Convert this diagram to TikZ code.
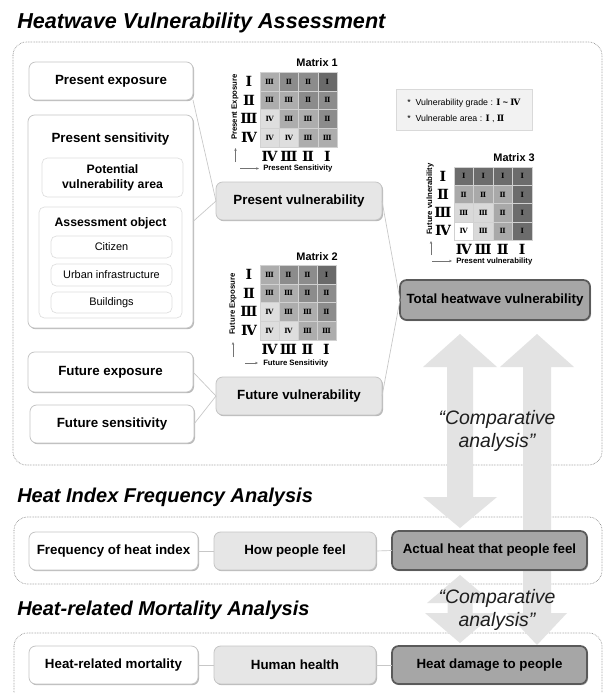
\documentclass[tikz,border=0pt]{standalone}
\usepackage{fontspec}
\setmainfont{Liberation Sans}
\newfontfamily\rmnf{DejaVu Serif}
\usetikzlibrary{shadows,arrows.meta}
\definecolor{bord}{HTML}{C4C4C4}
\definecolor{lgray}{HTML}{E6E6E6}
\definecolor{mgray}{HTML}{A6A6A6}
\definecolor{dbord}{HTML}{5A5A5A}
\definecolor{arrowc}{HTML}{E3E3E3}
\definecolor{m1c1}{HTML}{6A6A6A}
\definecolor{m1c2}{HTML}{8C8C8C}
\definecolor{m1c3}{HTML}{ADADAD}
\definecolor{m1c4}{HTML}{DEDEDE}
\definecolor{m3c1}{HTML}{6C6C6C}
\definecolor{m3c2}{HTML}{A9A9A9}
\definecolor{m3c3}{HTML}{D9D9D9}
\definecolor{m3c4}{HTML}{FFFFFF}
\newcommand\rn[1]{\ifcase#1\relax\or Ⅰ\or Ⅱ\or Ⅲ\or Ⅳ\fi}
\newcommand\bx[7]{\node[#6, minimum width={(#4-#2)*0.75pt}, minimum height={(#5-#3)*0.75pt}] (#1) at ({(#2+#4)/2},{(#3+#5)/2}) {#7};}
\tikzset{
 shad/.style={drop shadow={shadow xshift=0.8pt, shadow yshift=-0.9pt, fill=black, opacity=0.28}},
 base/.style={rectangle, rounded corners=5pt, inner sep=0pt, outer sep=0pt, align=center, font=\bfseries\fontsize{10}{12}\selectfont},
 wbox/.style={base, draw=bord, line width=0.6pt, fill=white, shad},
 gbox/.style={base, draw=bord, line width=0.6pt, fill=lgray, shad},
 dbox/.style={base, draw=dbord, line width=1.3pt, fill=mgray, shad},
 ibox/.style={rectangle, rounded corners=4pt, draw=black!13, line width=0.5pt, fill=white, inner sep=0pt, outer sep=0pt, align=center, font=\bfseries\fontsize{9.2}{11.3}\selectfont},
 small/.style={ibox, font=\fontsize{8.2}{10}\selectfont},
 legbox/.style={rectangle, draw=black!15, line width=0.5pt, fill=black!5, inner sep=0pt, outer sep=0pt},
 frame/.style={draw=black!50, line width=0.5pt, dash pattern=on 0.45pt off 0.75pt, rounded corners=10pt},
 link/.style={draw=black!22, line width=0.5pt},
 bigarrow/.style={fill=arrowc, draw=none},
 title/.style={font=\bfseries\itshape\fontsize{#1}{18}\selectfont, anchor=west, inner sep=0pt},
 hd/.style={font=\bfseries\fontsize{10}{12}\selectfont, inner sep=0pt},
 cmp/.style={font=\itshape\fontsize{14.6}{17.3}\selectfont, align=center, text=black!88, inner sep=0pt},
 cellline/.style={draw=white!82!black, line width=0.3pt},
 cellt/.style={font=\rmnf\bfseries\fontsize{5.4}{6}\selectfont, inner sep=0pt},
 axl/.style={font=\rmnf\bfseries\fontsize{10.5}{12}\selectfont, inner sep=0pt},
 axt/.style={font=\bfseries\fontsize{5.8}{7}\selectfont, inner sep=0pt},
 mtitle/.style={font=\bfseries\fontsize{8.2}{10}\selectfont, inner sep=0pt, anchor=east},
 axarrow/.style={draw=black!55, line width=0.4pt, -{Stealth[length=2.2pt,width=1.8pt]}},
 legt/.style={font=\fontsize{6.6}{8}\selectfont, anchor=west, inner sep=0pt},
}
\newcommand\mgrid[7]{%
 \foreach \v [count=\i from 0] in {#6} {
   \pgfmathtruncatemacro\rr{div(\i,4)}
   \pgfmathtruncatemacro\cc{mod(\i,4)}
   \pgfmathsetmacro\xa{#2+\cc*#4}
   \pgfmathsetmacro\ya{#3+\rr*#5}
   \filldraw[cellline, fill=#7c\v] (\xa,\ya) rectangle ++(#4,#5);
   \node[cellt] (#1-\i) at ({\xa+#4/2},{\ya+#5/2}) {\rn{\v}};
 }
 \foreach \v [count=\i from 0] in {1,2,3,4} {\node[axl] (#1-r\v) at ({#2-11},{#3+\i*#5+#5/2}) {\rn{\v}};}
 \foreach \v [count=\i from 0] in {4,3,2,1} {\node[axl] (#1-c\v) at ({#2+\i*#4+#4/2},{#3+4*#5+9}) {\rn{\v}};}
}
\begin{document}
\begin{tikzpicture}[x=0.75pt,y=-0.75pt]
\useasboundingbox (0,0) rectangle (605,693);
\clip (0,0) rectangle (605,693);
\fill[white] (0,0) rectangle (605,693);

% titles
\node[title=16.2] (t1) at (17,23) {Heatwave Vulnerability Assessment};
\node[title=15] (t2) at (17,497) {Heat Index Frequency Analysis};
\node[title=15] (t3) at (17,610) {Heat-related Mortality Analysis};

% dotted frames
\draw[frame] (13,42) rectangle (602,465);
\draw[frame] (14,517) rectangle (602,584);
\draw[frame] (14,633) rectangle (602,705);

% big comparative arrows
\fill[bigarrow] (460,334) -- (497,367) -- (473,367) -- (473,497) -- (497,497) -- (460,528) -- (423,497) -- (447,497) -- (447,367) -- (423,367) -- cycle;
\fill[bigarrow] (537,334) -- (574,367) -- (551,367) -- (551,613) -- (567,613) -- (537,645) -- (507,613) -- (523,613) -- (523,367) -- (500,367) -- cycle;
\fill[bigarrow] (460,575) -- (493,603) -- (472.5,603) -- (472.5,613) -- (495,613) -- (460,643) -- (425,613) -- (447.5,613) -- (447.5,603) -- (427,603) -- cycle;

% left column
\bx{pe}{29}{62}{193}{100}{wbox}{Present exposure}
\bx{ps}{28}{115}{193}{328}{wbox}{}
\node[hd] (pst) at (110.5,139) {Present sensitivity};
\bx{pva}{42}{158}{183}{197}{ibox}{Potential\\vulnerability area}
\bx{ao}{39}{207}{182}{318}{ibox}{}
\node[font=\bfseries\fontsize{9.2}{11}\selectfont, inner sep=0pt] (aot) at (110.5,223) {Assessment object};
\bx{cit}{51}{236}{172}{258}{small}{Citizen}
\bx{urb}{51}{264}{172}{286}{small}{Urban infrastructure}
\bx{bld}{51}{292}{172}{313}{small}{Buildings}
\bx{fe}{28}{352}{193}{392}{wbox}{Future exposure}
\bx{fs}{30}{405}{194}{443}{wbox}{Future sensitivity}

% middle and right
\bx{pv}{216}{182}{382}{220}{gbox}{Present vulnerability}
\bx{fv}{216}{377}{382}{415}{gbox}{Future vulnerability}
\bx{tot}{400}{280}{590}{320}{dbox}{Total heatwave vulnerability}

% bottom rows
\bx{fh}{29}{532}{198}{570}{wbox}{Frequency of heat index}
\bx{hp}{214}{532}{376}{570}{gbox}{How people feel}
\bx{ah}{392}{531}{587}{570}{dbox}{Actual heat that people feel}
\bx{hm}{29}{646}{198}{684}{wbox}{Heat-related mortality}
\bx{hh}{214}{646}{376}{684}{gbox}{Human health}
\bx{hdm}{392}{646}{587}{684}{dbox}{Heat damage to people}

% connectors
\draw[link] (pe.south east) -- (pv.west);
\draw[link] (ps.east) -- (pv.west);
\draw[link] (fe.east) -- (fv.west);
\draw[link] (fs.east) -- (fv.west);
\draw[link] (pv.east) -- (tot.west);
\draw[link] (fv.east) -- (tot.west);
\draw[link] (fh.east) -- (hp.west);
\draw[link] (hp.east) -- (ah.west);
\draw[link] (hm.east) -- (hh.west);
\draw[link] (hh.east) -- (hdm.west);

% matrix 1
\node[mtitle] (m1t) at (338,63) {Matrix 1};
\mgrid{ma}{260}{72}{19.25}{18.75}{3,2,2,1,3,3,2,2,4,3,3,2,4,4,3,3}{m1}
\node[axt, rotate=90] (ma-y) at (235,107) {Present Exposure};
\node[axt, anchor=west] (ma-x) at (263,168.5) {Present Sensitivity};
\draw[axarrow] (235.5,162) -- (235.5,148);
\draw[axarrow] (240,168.5) -- (259,168.5);

% matrix 2
\node[mtitle] (m2t) at (338,257) {Matrix 2};
\mgrid{mb}{260}{265}{19}{18.75}{3,2,2,1,3,3,2,2,4,3,3,2,4,4,3,3}{m1}
\node[axt, rotate=90] (mb-y) at (233,304) {Future Exposure};
\node[axt, anchor=west] (mb-x) at (263,363) {Future Sensitivity};
\draw[axarrow] (233,357) -- (233,342);
\draw[axarrow] (245,363) -- (258,363);

% matrix 3
\node[mtitle] (m3t) at (535,158) {Matrix 3};
\mgrid{mc}{454}{167}{19.5}{18.25}{1,1,1,1,2,2,2,1,3,3,2,1,4,3,2,1}{m3}
\node[axt, rotate=90] (mc-y) at (430,199) {Future vulnerability};
\node[axt, anchor=west] (mc-x) at (456,261) {Present vulnerability};
\draw[axarrow] (431,255) -- (431,241);
\draw[axarrow] (432,261) -- (452,261);

% legend
\bx{leg}{396}{89}{532}{130}{legbox}{}
\node[legt] (lg1) at (407,103) {*\ \ Vulnerability grade : {\rmnf\bfseries Ⅰ} {\bfseries\textasciitilde} {\rmnf\bfseries Ⅳ}};
\node[legt] (lg2) at (407,119) {*\ \ Vulnerable area : {\rmnf\bfseries Ⅰ} , {\rmnf\bfseries Ⅱ}};

% comparative analysis texts
\node[cmp] (ca1) at (497,431) {“Comparative\\analysis”};
\node[cmp] (ca2) at (497,610) {“Comparative\\analysis”};
\end{tikzpicture}
\end{document}
